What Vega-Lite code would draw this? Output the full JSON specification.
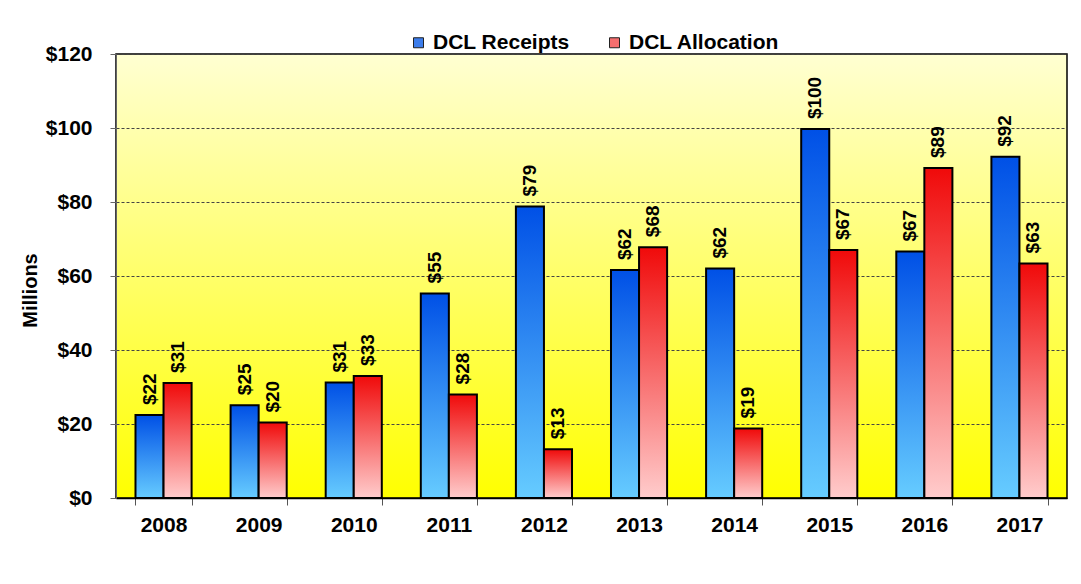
{
  "$schema": "https://vega.github.io/schema/vega-lite/v6.json",
  "width": 951,
  "height": 444,
  "autosize": {"type": "none"},
  "padding": {"left": 116, "top": 54, "right": 14, "bottom": 86},
  "background": "white",
  "config": {
    "font": "Liberation Sans",
    "view": {
      "stroke": "black",
      "strokeWidth": 1.5,
      "fill": {"gradient": "linear", "x1": 0, "y1": 0, "x2": 0, "y2": 1,
        "stops": [{"offset": 0, "color": "#FFFFD2"}, {"offset": 1, "color": "#FFFF00"}]}
    }
  },
  "data": {"values": [
    {"year": "2008", "series": "DCL Receipts", "value": 22.4},
    {"year": "2008", "series": "DCL Allocation", "value": 31.1},
    {"year": "2009", "series": "DCL Receipts", "value": 25.1},
    {"year": "2009", "series": "DCL Allocation", "value": 20.4},
    {"year": "2010", "series": "DCL Receipts", "value": 31.2},
    {"year": "2010", "series": "DCL Allocation", "value": 33.0},
    {"year": "2011", "series": "DCL Receipts", "value": 55.3},
    {"year": "2011", "series": "DCL Allocation", "value": 28.0},
    {"year": "2012", "series": "DCL Receipts", "value": 78.8},
    {"year": "2012", "series": "DCL Allocation", "value": 13.2},
    {"year": "2013", "series": "DCL Receipts", "value": 61.6},
    {"year": "2013", "series": "DCL Allocation", "value": 67.8},
    {"year": "2014", "series": "DCL Receipts", "value": 62.0},
    {"year": "2014", "series": "DCL Allocation", "value": 18.8},
    {"year": "2015", "series": "DCL Receipts", "value": 99.7},
    {"year": "2015", "series": "DCL Allocation", "value": 67.0},
    {"year": "2016", "series": "DCL Receipts", "value": 66.6},
    {"year": "2016", "series": "DCL Allocation", "value": 89.2},
    {"year": "2017", "series": "DCL Receipts", "value": 92.2},
    {"year": "2017", "series": "DCL Allocation", "value": 63.4}
  ]},
  "encoding": {
    "x": {
      "field": "year", "type": "nominal",
      "scale": {"paddingInner": 0.41, "paddingOuter": 0.205},
      "axis": {
        "title": null, "labelAngle": 0, "labelFont": "Liberation Sans", "labelFontSize": 21,
        "labelFontWeight": "bold", "labelColor": "black", "labelPadding": 9,
        "tickBand": "extent", "tickSize": 7, "tickColor": "#555", "domainColor": "black",
        "domainWidth": 1.5
      }
    },
    "xOffset": {"field": "series", "type": "nominal",
      "scale": {"domain": ["DCL Receipts", "DCL Allocation"], "paddingInner": 0, "paddingOuter": 0}},
    "y": {
      "field": "value", "type": "quantitative",
      "scale": {"domain": [0, 120], "nice": false},
      "axis": {
        "values": [0, 20, 40, 60, 80, 100, 120], "format": "$.0f",
        "title": "Millions", "titleFont": "Liberation Sans", "titleFontSize": 20, "titleFontWeight": "bold",
        "titleColor": "black", "titleX": -86, "titleY": 236, "titleAngle": 270,
        "titleAlign": "center", "titleBaseline": "middle",
        "labelFont": "Liberation Sans", "labelFontSize": 21, "labelFontWeight": "bold", "labelColor": "black",
        "labelPadding": 18, "tickSize": 6, "tickColor": "#666", "domainColor": "#666",
        "grid": true, "gridColor": "#444", "gridDash": [3, 2], "gridWidth": 1
      }
    }
  },
  "layer": [
    {
      "mark": {"type": "bar", "opacity": 0},
      "encoding": {
        "fill": {
          "field": "series", "type": "nominal",
          "scale": {"domain": ["DCL Receipts", "DCL Allocation"], "range": ["#3C7DEB", "#F56E6E"]},
          "legend": {
            "title": null, "orient": "none", "direction": "horizontal",
            "legendX": 292, "legendY": -22,
            "symbolType": "square", "symbolSize": 100, "symbolStrokeColor": "#222", "symbolStrokeWidth": 1,
            "symbolOpacity": 1,
            "labelFont": "Liberation Sans", "labelFontSize": 21, "labelFontWeight": "bold", "labelColor": "black",
            "labelOffset": 4, "columnPadding": 34
          }
        }
      }
    },
    {
      "transform": [{"filter": "datum.series === 'DCL Receipts'"}],
      "mark": {"type": "bar", "stroke": "black", "strokeWidth": 2,
        "fill": {"gradient": "linear", "x1": 0, "y1": 0, "x2": 0, "y2": 1,
          "stops": [{"offset": 0, "color": "#0050E6"}, {"offset": 1, "color": "#66CCFF"}]}}
    },
    {
      "transform": [{"filter": "datum.series === 'DCL Allocation'"}],
      "mark": {"type": "bar", "stroke": "black", "strokeWidth": 2,
        "fill": {"gradient": "linear", "x1": 0, "y1": 0, "x2": 0, "y2": 1,
          "stops": [{"offset": 0, "color": "#F00A0A"}, {"offset": 1, "color": "#FFCCCC"}]}}
    },
    {
      "mark": {"type": "text", "angle": 270, "align": "left", "baseline": "middle", "dx": 10,
        "font": "Liberation Sans", "fontSize": 19, "fontWeight": "bold", "color": "black"},
      "encoding": {
        "text": {"field": "value", "type": "quantitative", "format": "$.0f"}
      }
    }
  ]
}
